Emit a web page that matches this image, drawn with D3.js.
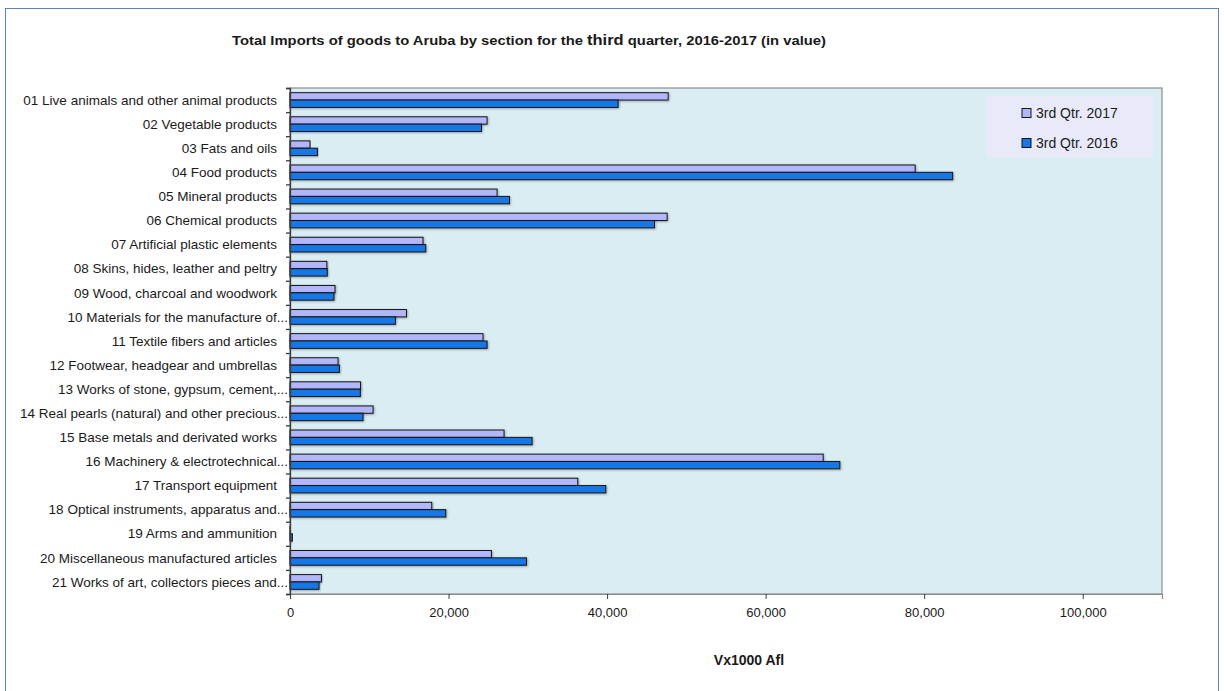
<!DOCTYPE html>
<html>
<head>
<meta charset="utf-8">
<script src="https://cdn.jsdelivr.net/npm/d3@7"></script>
<style>
  html, body { margin: 0; padding: 0; background: #ffffff; }
  svg { display: block; }
</style>
</head>
<body>
<svg id="chart" width="1224" height="691"></svg>
<script>
// ---- DATA ----
const categories = [
  "01 Live animals and other animal products",
  "02 Vegetable products",
  "03 Fats and oils",
  "04 Food products",
  "05 Mineral products",
  "06 Chemical products",
  "07 Artificial plastic elements",
  "08 Skins, hides, leather and peltry",
  "09 Wood, charcoal and woodwork",
  "10 Materials for the manufacture of...",
  "11 Textile fibers and articles",
  "12 Footwear, headgear and umbrellas",
  "13 Works of stone, gypsum, cement,...",
  "14 Real pearls (natural) and other precious...",
  "15 Base metals and derivated works",
  "16 Machinery & electrotechnical...",
  "17 Transport equipment",
  "18 Optical instruments, apparatus and...",
  "19 Arms and ammunition",
  "20 Miscellaneous manufactured articles",
  "21 Works of art, collectors pieces and..."
];
const seriesNames = ["3rd Qtr. 2017", "3rd Qtr. 2016"];
const values2017 = [47700, 24860, 2520, 78860, 26120, 47570, 16780, 4650, 5680, 14690, 24350, 6060, 8900, 10480, 27000, 67260, 36300, 17880, 120, 25410, 3960];
const values2016 = [41390, 24150, 3460, 83590, 27690, 45980, 17120, 4700, 5550, 13300, 24860, 6230, 8870, 9210, 30540, 69360, 39840, 19650, 300, 29830, 3660];
const xTicks = [0, 20000, 40000, 60000, 80000, 100000];
const xMax = 110000;
const titleParts = ["Total Imports of goods to Aruba by section for the ", "third", " quarter, 2016-2017 (in value)"];
const axisTitle = "Vx1000 Afl";

// ---- STYLE / LAYOUT ----
const colors = { "3rd Qtr. 2017": "#b3b6fb", "3rd Qtr. 2016": "#1777e6" };
const plot = { left: 290, right: 1162, top: 88, bottom: 594 };
const fontFam = "'Liberation Sans', Arial, sans-serif";

const svg = d3.select("#chart");

// outer chart border
svg.append("rect")
  .attr("x", 5.5).attr("y", 8.5).attr("width", 1213).attr("height", 720)
  .attr("fill", "#ffffff").attr("stroke", "#5b86bd").attr("stroke-width", 1);

// title
const title = svg.append("text")
  .attr("x", 232).attr("y", 45)
  .attr("textLength", 594).attr("lengthAdjust", "spacingAndGlyphs")
  .attr("font-family", fontFam).attr("font-weight", "bold")
  .attr("font-size", "13px").attr("fill", "#1a1a1a");
title.selectAll("tspan").data(titleParts).join("tspan")
  .attr("font-size", (d, i) => i === 1 ? "14.5px" : null)
  .text(d => d);

// scales
const x = d3.scaleLinear().domain([0, xMax]).range([plot.left, plot.right]);
const y0 = d3.scaleBand().domain(categories).range([plot.top, plot.bottom])
  .paddingInner(0.39).paddingOuter(0.195);
const y1 = d3.scaleBand().domain(seriesNames).range([0, y0.bandwidth()]);

// plot background
svg.append("rect")
  .attr("x", plot.left).attr("y", plot.top)
  .attr("width", plot.right - plot.left).attr("height", plot.bottom - plot.top)
  .attr("fill", "#daedf3").attr("stroke", "#8c8c8c").attr("stroke-width", 1.2);

// shadow filter
const defs = svg.append("defs");
const f = defs.append("filter").attr("id", "shadow").attr("x", "-5%").attr("y", "-50%").attr("width", "110%").attr("height", "200%");
f.append("feDropShadow").attr("dx", 0.8).attr("dy", 0.8).attr("stdDeviation", 0.8).attr("flood-color", "#000").attr("flood-opacity", 0.35);

// bars
const rows = categories.map((c, i) => ({ cat: c, vals: [
  { s: seriesNames[0], v: values2017[i] },
  { s: seriesNames[1], v: values2016[i] }
]}));
const g = svg.append("g");
g.selectAll("g.cat").data(rows).join("g")
  .attr("class", "cat")
  .attr("transform", d => `translate(0,${y0(d.cat)})`)
  .selectAll("rect").data(d => d.vals).join("rect")
  .attr("x", x(0))
  .attr("y", d => y1(d.s))
  .attr("width", d => x(d.v) - x(0))
  .attr("height", y1.bandwidth())
  .attr("fill", d => colors[d.s])
  .attr("stroke", "#141414").attr("stroke-width", 1)
  .attr("filter", "url(#shadow)");

// y axis (category) line + boundary ticks
const yAxis = d3.axisLeft(d3.scaleLinear().domain([0, categories.length]).range([plot.top, plot.bottom]))
  .tickValues(d3.range(0, categories.length + 1)).tickSize(4).tickFormat("");
svg.append("g").attr("transform", `translate(${plot.left},0)`).call(yAxis)
  .call(s => s.selectAll("path,line").attr("stroke", "#3a3a3a").attr("stroke-width", 1.3));

// category labels
svg.append("g").selectAll("text").data(categories).join("text")
  .attr("x", d => d.endsWith("...") ? 288 : 277)
  .attr("y", d => y0(d) + y0.bandwidth() / 2)
  .attr("dy", "0.35em")
  .attr("text-anchor", "end")
  .attr("font-family", fontFam).attr("font-size", "13.5px").attr("fill", "#1a1a1a")
  .text(d => d);

// x axis
const xAxis = d3.axisBottom(x).tickValues(xTicks).tickSize(5).tickPadding(9)
  .tickFormat(d3.format(","));
svg.append("g").attr("transform", `translate(0,${plot.bottom})`).call(xAxis)
  .call(s => s.select(".domain").attr("stroke", "#8c8c8c").attr("stroke-width", 1.2))
  .call(s => s.selectAll(".tick line").attr("stroke", "#3a3a3a"))
  .call(s => s.selectAll(".tick text").attr("font-family", fontFam).attr("font-size", "13px").attr("fill", "#1a1a1a"));

// axis title
svg.append("text")
  .attr("x", 749).attr("y", 665).attr("text-anchor", "middle")
  .attr("font-family", fontFam).attr("font-weight", "bold").attr("font-size", "14px")
  .attr("fill", "#1a1a1a").text(axisTitle);

// legend
const legend = svg.append("g");
legend.append("rect").attr("x", 987).attr("y", 96).attr("width", 166).attr("height", 62)
  .attr("fill", "#e8eafa");
const li = legend.selectAll("g.item").data(seriesNames).join("g")
  .attr("class", "item")
  .attr("transform", (d, i) => `translate(1022,${113 + i * 30})`);
li.append("rect").attr("x", 0).attr("y", -4.5).attr("width", 9).attr("height", 9)
  .attr("fill", d => colors[d]).attr("stroke", "#141414").attr("stroke-width", 1);
li.append("text").attr("x", 14).attr("y", 0).attr("dy", "0.35em")
  .attr("font-family", fontFam).attr("font-size", "14px").attr("fill", "#1a1a1a")
  .text(d => d);
</script>
</body>
</html>
